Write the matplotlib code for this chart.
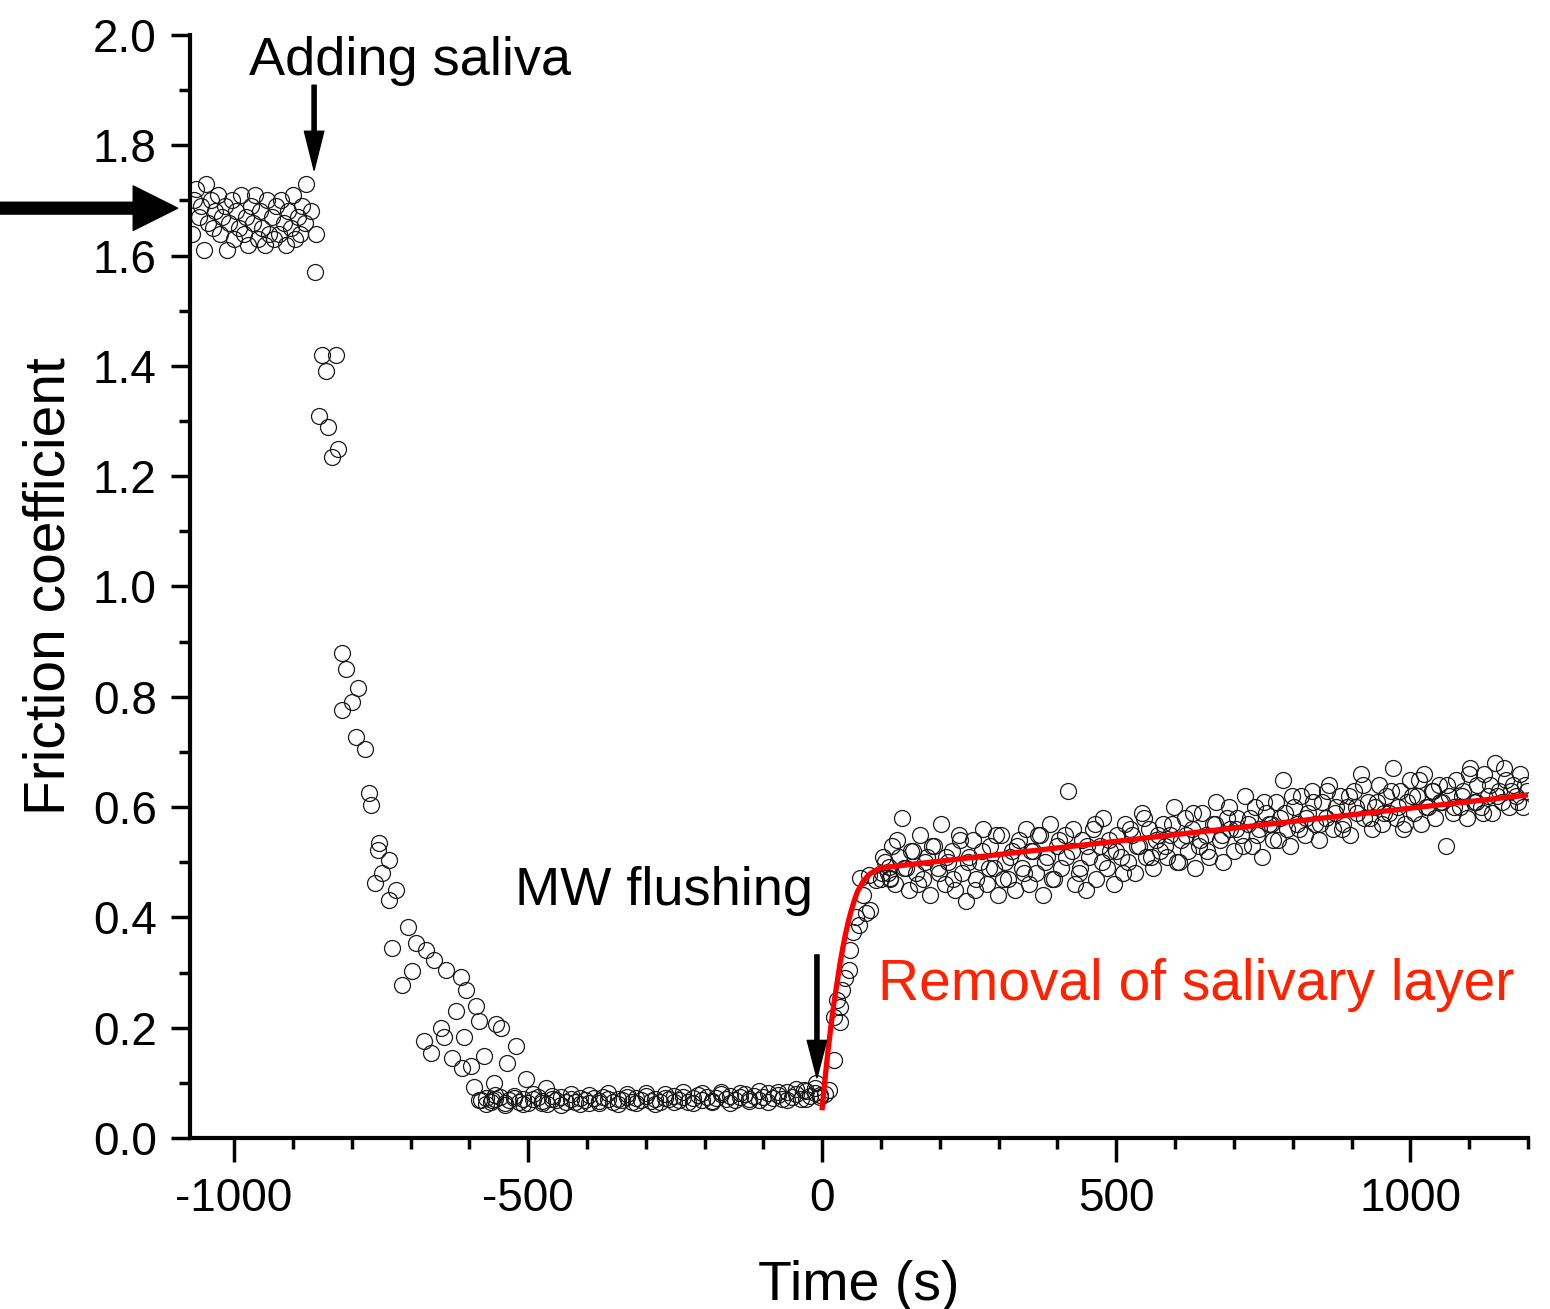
import numpy as np
import matplotlib
matplotlib.use("Agg")
import matplotlib.pyplot as plt
from matplotlib.ticker import MultipleLocator

plt.rcParams['font.family'] = ['Liberation Sans', 'DejaVu Sans']
plt.rcParams['axes.unicode_minus'] = False

# --- data ---
# plateau before saliva is added (t every 4 s)
t_plateau = np.arange(-1072, -876, 4)
mu_plateau = [
    1.64, 1.70, 1.72, 1.67, 1.69, 1.61, 1.73, 1.66, 1.70, 1.65,
    1.68, 1.71, 1.64, 1.67, 1.69, 1.61, 1.66, 1.70, 1.63, 1.68,
    1.65, 1.71, 1.64, 1.67, 1.62, 1.69, 1.66, 1.71, 1.63, 1.68,
    1.65, 1.62, 1.70, 1.64, 1.67, 1.63, 1.69, 1.64, 1.70, 1.66,
    1.62, 1.68, 1.65, 1.71, 1.63, 1.67, 1.64, 1.69, 1.66,
]

# drop after adding saliva
t_drop = [-877, -869, -860, -863, -850, -826, -843, -855, -841, -824, -833,
          -817, -809, -790, -800, -816, -792, -778, -770, -767, -753, -755,
          -736, -748, -761, -724, -736,
          -705, -731, -690, -673, -660, -639, -614, -605, -697, -714, -588,
          -622, -583, -554, -546, -648, -643, -609, -677, -665, -629, -575,
          -520, -536, -612, -597, -503, -592, -558, -583, -562, -470]
mu_drop = [1.73, 1.68, 1.64, 1.57, 1.42, 1.42, 1.39, 1.31, 1.29, 1.25, 1.235,
           0.879, 0.85, 0.816, 0.79, 0.776, 0.727, 0.705, 0.626, 0.604, 0.535, 0.522,
           0.504, 0.48, 0.462, 0.45, 0.432,
           0.383, 0.344, 0.353, 0.341, 0.322, 0.305, 0.292, 0.268, 0.303, 0.277, 0.24,
           0.23, 0.212, 0.206, 0.2, 0.2, 0.183, 0.183, 0.175, 0.154, 0.145, 0.148,
           0.166, 0.136, 0.127, 0.131, 0.107, 0.092, 0.1, 0.069, 0.069, 0.09]

# low friction with saliva (two interleaved sample rows)
t_low1 = np.arange(-580, 0, 8)
mu_low1 = [
    0.068, 0.072, 0.065, 0.070, 0.075, 0.063, 0.069, 0.073, 0.066, 0.071,
    0.064, 0.070, 0.074, 0.067, 0.062, 0.071, 0.068, 0.075, 0.065, 0.070,
    0.066, 0.073, 0.069, 0.064, 0.072, 0.067, 0.075, 0.070, 0.065, 0.071,
    0.068, 0.074, 0.066, 0.072, 0.069, 0.076, 0.067, 0.071, 0.065, 0.073,
    0.070, 0.077, 0.068, 0.074, 0.066, 0.072, 0.078, 0.069, 0.075, 0.067,
    0.073, 0.079, 0.070, 0.076, 0.068, 0.074, 0.080, 0.071, 0.077, 0.069,
    0.075, 0.081, 0.072, 0.078, 0.070, 0.083, 0.074, 0.079, 0.071, 0.085,
    0.076, 0.082, 0.078,
]
t_low2 = np.arange(-572, 0, 16)
mu_low2 = [
    0.062, 0.078, 0.060, 0.076, 0.061, 0.079, 0.063, 0.077, 0.060, 0.080,
    0.062, 0.078, 0.064, 0.081, 0.061, 0.079, 0.063, 0.082, 0.062, 0.080,
    0.065, 0.083, 0.063, 0.081, 0.066, 0.084, 0.064, 0.082, 0.067, 0.086,
    0.065, 0.084, 0.068, 0.088, 0.070, 0.090,
]

# rise during MW flushing
t_rise = [-31, -11, -4, 4, 11, 20, 20, 25, 31, 31, 33, 38, 45, 48, 53, 57, 62,
          70, 75, 82, 65, 79, 91, 101, 116, 113]
mu_rise = [0.087, 0.1, 0.075, 0.08, 0.087, 0.141, 0.219, 0.25, 0.21, 0.238, 0.268,
           0.29, 0.305, 0.341, 0.374, 0.40, 0.386, 0.44, 0.408, 0.413, 0.471,
           0.477, 0.468, 0.48, 0.471, 0.491]

# after removal of salivary layer
t_after1 = np.arange(100, 1200, 6)
mu_after1 = [
    0.47, 0.50, 0.48, 0.53, 0.46, 0.51, 0.58, 0.49, 0.45, 0.52,
    0.48, 0.55, 0.47, 0.51, 0.44, 0.53, 0.49, 0.57, 0.46, 0.50,
    0.52, 0.45, 0.55, 0.48, 0.43, 0.51, 0.54, 0.47, 0.50, 0.56,
    0.46, 0.53, 0.49, 0.44, 0.55, 0.50, 0.47, 0.52, 0.45, 0.54,
    0.49, 0.56, 0.46, 0.52, 0.48, 0.55, 0.44, 0.51, 0.57, 0.47,
    0.53, 0.49, 0.55, 0.63, 0.52, 0.46, 0.48, 0.54, 0.45, 0.51,
    0.56, 0.47, 0.53, 0.58, 0.49, 0.52, 0.46, 0.55, 0.51, 0.57,
    0.50, 0.55, 0.48, 0.53, 0.59, 0.51, 0.56, 0.49, 0.54, 0.52,
    0.57, 0.51, 0.55, 0.60, 0.50, 0.54, 0.58, 0.52, 0.56, 0.49,
    0.53, 0.59, 0.55, 0.51, 0.57, 0.61, 0.54, 0.50, 0.58, 0.56,
    0.52, 0.58, 0.55, 0.62, 0.57, 0.53, 0.60, 0.56, 0.51, 0.59,
    0.57, 0.54, 0.61, 0.58, 0.65, 0.56, 0.53, 0.60, 0.57, 0.62,
    0.55, 0.59, 0.63, 0.57, 0.54, 0.61, 0.58, 0.64, 0.56, 0.60,
    0.62, 0.57, 0.60, 0.55, 0.63, 0.59, 0.66, 0.58, 0.61, 0.56,
    0.60, 0.64, 0.57, 0.62, 0.59, 0.67, 0.58, 0.63, 0.56, 0.61,
    0.65, 0.59, 0.62, 0.57, 0.66, 0.60, 0.63, 0.58, 0.64, 0.61,
    0.53, 0.62, 0.59, 0.65, 0.60, 0.63, 0.58, 0.67, 0.61, 0.64,
    0.60, 0.66, 0.62, 0.59, 0.68, 0.63, 0.61, 0.65, 0.60, 0.64,
    0.62, 0.66, 0.60, 0.63,
]
t_after2 = np.arange(103, 1200, 12)
mu_after2 = [
    0.51, 0.47, 0.54, 0.49, 0.52, 0.46, 0.50, 0.53, 0.48, 0.51,
    0.47, 0.54, 0.50, 0.45, 0.52, 0.49, 0.55, 0.47, 0.51, 0.53,
    0.48, 0.52, 0.55, 0.50, 0.47, 0.54, 0.51, 0.56, 0.49, 0.53,
    0.57, 0.50, 0.54, 0.52, 0.48, 0.56, 0.53, 0.58, 0.51, 0.55,
    0.53, 0.57, 0.50, 0.55, 0.59, 0.54, 0.52, 0.57, 0.55, 0.60,
    0.56, 0.53, 0.58, 0.55, 0.61, 0.57, 0.54, 0.59, 0.62, 0.56,
    0.58, 0.61, 0.57, 0.63, 0.59, 0.56, 0.62, 0.60, 0.64, 0.58,
    0.61, 0.59, 0.63, 0.60, 0.57, 0.62, 0.65, 0.60, 0.63, 0.61,
    0.64, 0.60, 0.62, 0.66, 0.61, 0.59, 0.64, 0.62, 0.67, 0.63,
    0.61, 0.64,
]

# red fit curve
t_fit = [0, 5, 10, 15, 20, 25, 30, 35, 40, 45, 50, 55, 60, 70, 80, 90, 100,
         150, 300, 500, 700, 900, 1100, 1200]
mu_fit = [0.055, 0.11, 0.16, 0.205, 0.245, 0.28, 0.315, 0.345, 0.372, 0.395,
          0.415, 0.432, 0.447, 0.466, 0.478, 0.485, 0.49,
          0.496, 0.514, 0.538, 0.562, 0.586, 0.610, 0.622]

t_all = np.concatenate([t_plateau, t_drop, t_low1, t_low2, t_rise, t_after1, t_after2])
mu_all = np.concatenate([mu_plateau, mu_drop, mu_low1, mu_low2, mu_rise, mu_after1, mu_after2])

fig = plt.figure(figsize=(15.5, 13.09), dpi=100)
ax = fig.add_axes([190 / 1550, 1 - 1138 / 1309, (1528 - 190) / 1550, (1138 - 35) / 1309])

ax.plot(t_all, mu_all, 'o', ms=11.5, mfc='none', mec='#1a1a1a', mew=0.9, zorder=2)
ax.plot(t_fit, mu_fit, '-', color='#ff0000', lw=3.8, zorder=3)

ax.set_xlim(-1075, 1200)
ax.set_ylim(0, 2.0)
ax.xaxis.set_major_locator(MultipleLocator(500))
ax.xaxis.set_minor_locator(MultipleLocator(100))
ax.yaxis.set_major_locator(MultipleLocator(0.2))
ax.yaxis.set_minor_locator(MultipleLocator(0.1))
ax.yaxis.set_major_formatter(plt.FormatStrFormatter('%.1f'))

for s in ['top', 'right']:
    ax.spines[s].set_visible(False)
for s in ['left', 'bottom']:
    ax.spines[s].set_linewidth(3.0)

ax.tick_params(axis='both', which='both', direction='out', width=2.5, labelsize=33)
ax.tick_params(axis='x', which='major', length=17, pad=11)
ax.tick_params(axis='x', which='minor', length=8)
ax.tick_params(axis='y', which='major', length=14, pad=10)
ax.tick_params(axis='y', which='minor', length=8)

ax.set_xlabel('Time (s)', fontsize=40, labelpad=28)
ax.set_ylabel('Friction coefficient', fontsize=41, labelpad=12)

# annotations
ax.text(-700, 1.927, 'Adding saliva', fontsize=39, ha='center', va='baseline')
ax.annotate('', xy=(-864, 1.755), xytext=(-864, 1.909),
            arrowprops=dict(facecolor='black', edgecolor='black', width=3,
                            headwidth=14, headlength=28, shrink=0))
ax.text(-269, 0.4225, 'MW flushing', fontsize=39, ha='center', va='baseline')
ax.annotate('', xy=(-9, 0.109), xytext=(-9, 0.332),
            arrowprops=dict(facecolor='black', edgecolor='black', width=3,
                            headwidth=14, headlength=27, shrink=0))
ax.text(636, 0.25, 'Removal of salivary layer', fontsize=41, color='#ff2200',
        ha='center', va='baseline')
ax.annotate('', xy=(-1096, 1.686), xytext=(-1400, 1.686), annotation_clip=False,
            arrowprops=dict(facecolor='black', edgecolor='black', width=8.5,
                            headwidth=32, headlength=32, shrink=0))

fig.savefig('out.png', dpi=100)
